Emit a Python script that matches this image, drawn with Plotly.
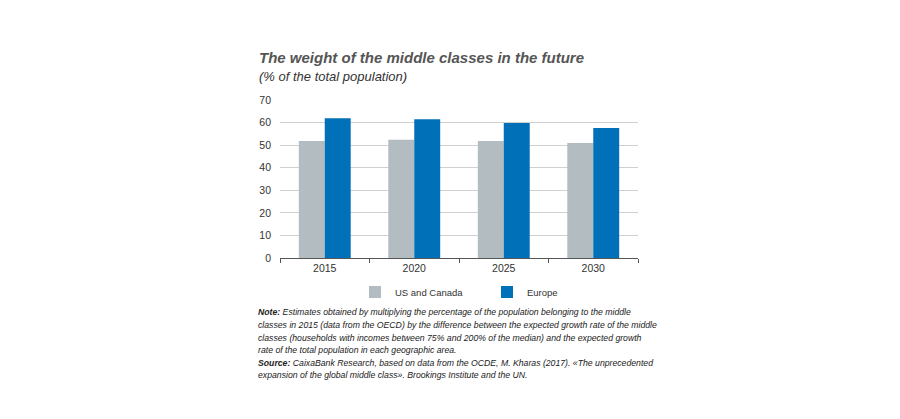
import plotly.graph_objects as go

years = ["2015", "2020", "2025", "2030"]
us_canada = [51.8, 52.4, 51.8, 50.9]
europe = [61.9, 61.5, 59.8, 57.6]
series_names = ["US and Canada", "Europe"]
y_ticks = [0, 10, 20, 30, 40, 50, 60, 70]

GRAY = "#b2bcc1"
BLUE = "#0070b8"
FONT = "Liberation Sans, Arial, sans-serif"

W, H = 900, 419
OFF = 8  # page body margin
L, R, T, B = 280 - OFF, 638 - OFF, 100 - OFF, 258 - OFF


def px(x):
    return (x - OFF - L) / (R - L)


def py(y):
    return (B - (y - OFF)) / (B - T)


fig = go.Figure()
fig.add_trace(go.Bar(x=years, y=us_canada, name=series_names[0],
                     marker=dict(color=GRAY, line=dict(width=0))))
fig.add_trace(go.Bar(x=years, y=europe, name=series_names[1],
                     marker=dict(color=BLUE, line=dict(width=0))))

note_lines = [
    "<b>Note:</b> Estimates obtained by multiplying the percentage of the population belonging to the middle",
    "classes in 2015 (data from the OECD) by the difference between the expected growth rate of the middle",
    "classes (households with incomes between 75% and 200% of the median) and the expected growth",
    "rate of the total population in each geographic area.",
    "<b>Source:</b> CaixaBank Research, based on data from the OCDE, M. Kharas (2017). «The unprecedented",
    "expansion of the global middle class». Brookings Institute and the UN.",
]

annotations = [
    dict(text="<b><i>The weight of the middle classes in the future</i></b>",
         x=px(257), y=py(57), xref="paper", yref="paper", xanchor="left", yanchor="middle",
         showarrow=False, font=dict(family=FONT, size=15, color="#555555")),
    dict(text="<i>(% of the total population)</i>",
         x=px(257), y=py(76), xref="paper", yref="paper", xanchor="left", yanchor="middle",
         showarrow=False, font=dict(family=FONT, size=13, color="#333333")),
]
line_y = [312, 325, 338, 350, 363, 375]
for txt, ly in zip(note_lines, line_y):
    annotations.append(dict(text="<i>" + txt + "</i>", x=px(256), y=py(ly), xref="paper", yref="paper",
                            xanchor="left", yanchor="middle", showarrow=False,
                            font=dict(family=FONT, size=8.7, color="#222222")))

fig.update_layout(
    width=W, height=H,
    margin=dict(l=L, r=W - R, t=T, b=H - B),
    paper_bgcolor="white", plot_bgcolor="white",
    barmode="group", bargap=0.42, bargroupgap=0,
    font=dict(family=FONT, size=10, color="#333333"),
    showlegend=True,
    legend=dict(orientation="h", x=px(355), y=py(292), xanchor="left", yanchor="middle",
                entrywidth=87, entrywidthmode="pixels", font=dict(family=FONT, size=9.5, color="#333333"),
                bgcolor="rgba(0,0,0,0)"),
    annotations=annotations,
    xaxis=dict(type="category", showgrid=False, ticks="outside", tickson="boundaries",
               ticklen=4, tickcolor="#555555", showline=True, linecolor="#555555", linewidth=1,
               tickfont=dict(family=FONT, size=10.5, color="#333333")),
    yaxis=dict(range=[0, 70], tickvals=y_ticks, showgrid=True, gridcolor="#d0d0d0", gridwidth=1,
               zeroline=False, showline=False, ticks="", ticklabelstandoff=8,
               tickfont=dict(family=FONT, size=10.5, color="#333333")),
)

fig.write_html("out.html")
